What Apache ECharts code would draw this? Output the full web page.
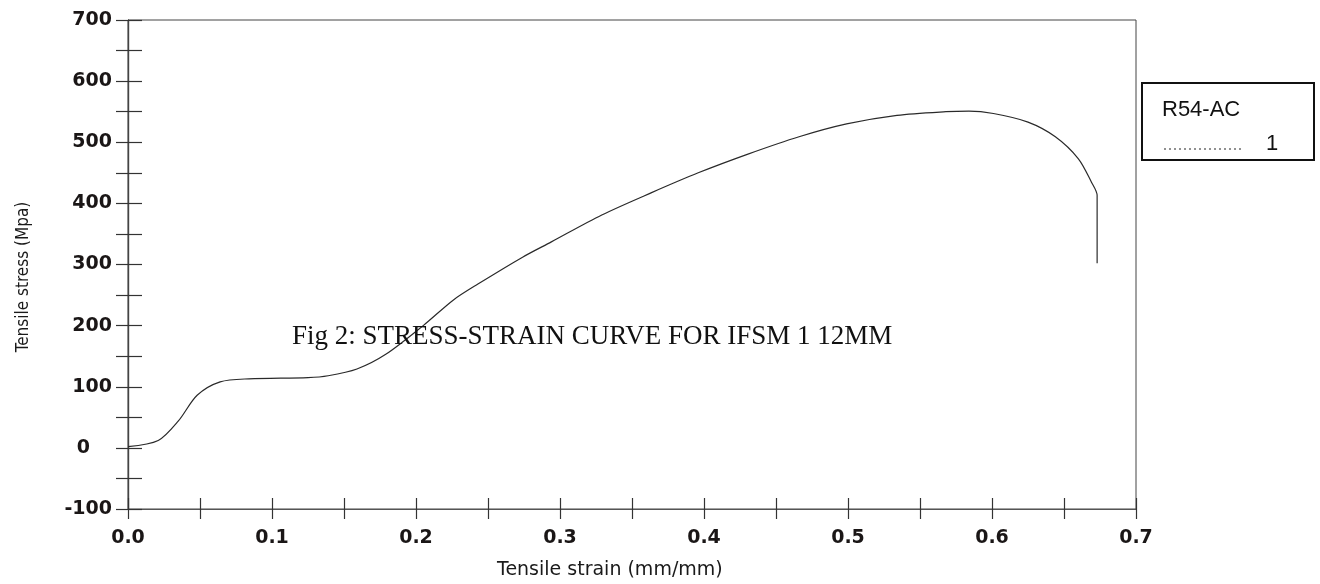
<!DOCTYPE html>
<html>
<head>
<meta charset="utf-8">
<title>Stress-strain curve</title>
<script src="https://cdn.jsdelivr.net/npm/echarts@6/dist/echarts.min.js"></script>
<style>
  html, body { margin: 0; padding: 0; background: #fff; }
  #chart { width: 1320px; height: 584px; }
</style>
</head>
<body>
<div id="chart"></div>
<script>
// Tensile test, specimen R54-AC (curve 1)
const seriesName = 'R54-AC';
const strain = [0.000, 0.021, 0.035, 0.048, 0.064, 0.084, 0.125, 0.139, 0.159, 0.179,
                0.205, 0.226, 0.243, 0.274, 0.294, 0.329, 0.364, 0.396, 0.431, 0.466,
                0.499, 0.534, 0.568, 0.584, 0.601, 0.625, 0.644, 0.660, 0.669, 0.673, 0.673];
const stress = [2, 12, 44, 86, 108, 113, 115, 118, 129, 153,
                200, 242, 268, 312, 337, 381, 418, 450, 481, 509,
                530, 544, 550, 551, 547, 533, 509, 473, 435, 413, 302];

const xRange = [0, 0.7];
const yRange = [-100, 700];
const xStep = 0.05;
const yStep = 50;

const titleText = 'Fig 2: STRESS-STRAIN CURVE FOR IFSM 1 12MM';
const xName = 'Tensile strain (mm/mm)';
const yName = 'Tensile stress (Mpa)';
const legendNum = '1';

const points = strain.map((x, i) => [x, stress[i]]);

const labelFont = { fontFamily: 'DejaVu Sans', fontWeight: 'bold', fontSize: 19, color: '#1a1616' };
const tickColor = '#333';

function xLabel(v) {
  const t = v * 10;
  return Math.abs(t - Math.round(t)) < 1e-6 ? v.toFixed(1) : '';
}
function yLabel(v) {
  if (v % 100 !== 0) return '';
  return v === 0 ? '{z|0}' : String(v);
}

const chart = echarts.init(document.getElementById('chart'), null, { renderer: 'canvas' });

const baseX = {
  type: 'value', min: xRange[0], max: xRange[1], interval: xStep,
  position: 'bottom', splitLine: { show: false },
  axisLine: { show: true, onZero: false, lineStyle: { color: '#555', width: 1.2 } }
};
const baseY = {
  type: 'value', min: yRange[0], max: yRange[1], interval: yStep,
  position: 'left', splitLine: { show: false },
  axisLine: { show: true, onZero: false, lineStyle: { color: '#444', width: 1.2 } }
};

chart.setOption({
  backgroundColor: '#fff',
  animation: false,
  title: {
    text: titleText, left: 287, top: 318,
    textStyle: { fontFamily: 'Liberation Serif', fontWeight: 'normal', fontSize: 27, color: '#111' }
  },
  grid: {
    left: 128, top: 20, width: 1008, height: 489,
    show: true, borderColor: '#444', borderWidth: 1,
    outerBoundsMode: 'none'
  },
  xAxis: [
    Object.assign({}, baseX, {
      axisTick: { show: true, inside: false, length: 10, lineStyle: { color: tickColor, width: 1.2 } },
      axisLabel: Object.assign({ margin: 20, formatter: xLabel, showMinLabel: true, showMaxLabel: true, hideOverlap: false }, labelFont)
    }),
    Object.assign({}, baseX, {
      axisTick: { show: true, inside: true, length: 11, lineStyle: { color: tickColor, width: 1.2 } },
      axisLabel: { show: false }
    })
  ],
  yAxis: [
    Object.assign({}, baseY, {
      axisTick: { show: true, inside: false, length: 12, lineStyle: { color: tickColor, width: 1.2 } },
      axisLabel: Object.assign({
        margin: 16, formatter: yLabel, showMinLabel: true, showMaxLabel: true, hideOverlap: false,
        rich: { z: Object.assign({ padding: [0, 22, 0, 0] }, labelFont) }
      }, labelFont)
    }),
    Object.assign({}, baseY, {
      axisTick: { show: true, inside: true, length: 14, lineStyle: { color: tickColor, width: 1.2 } },
      axisLabel: { show: false }
    })
  ],
  series: [{
    name: seriesName,
    type: 'line',
    xAxisIndex: 0, yAxisIndex: 0,
    data: points,
    smooth: 0.3,
    showSymbol: false,
    symbol: 'none',
    lineStyle: { color: '#2a2a2a', width: 1.2 }
  }],
  graphic: [
    {
      type: 'text', left: 497, top: 561,
      style: { text: xName, fontFamily: 'DejaVu Sans', fontSize: 19, fill: '#1a1a1a' }
    },
    {
      type: 'text', x: 24, y: 277, rotation: Math.PI / 2,
      style: {
        text: yName, fontFamily: "'DejaVu Sans Condensed', 'Liberation Sans Narrow', 'DejaVu Sans'",
        fontSize: 17, fill: '#1a1a1a', align: 'center', verticalAlign: 'middle'
      }
    },
    {
      type: 'group', left: 1141, top: 82,
      children: [
        { type: 'rect', shape: { x: 0, y: 0, width: 172, height: 77 },
          style: { fill: '#fff', stroke: '#111', lineWidth: 2 } },
        { type: 'text', x: 20, y: 27,
          style: { text: seriesName, fontFamily: 'Liberation Sans', fontSize: 22, fill: '#111', verticalAlign: 'middle' } },
        { type: 'line', shape: { x1: 22, y1: 66, x2: 99, y2: 66 },
          style: { stroke: '#222', lineWidth: 1, lineDash: [2, 3] } },
        { type: 'text', x: 124, y: 61,
          style: { text: legendNum, fontFamily: 'Liberation Sans', fontSize: 22, fill: '#111', verticalAlign: 'middle' } }
      ]
    }
  ]
});
</script>
</body>
</html>
